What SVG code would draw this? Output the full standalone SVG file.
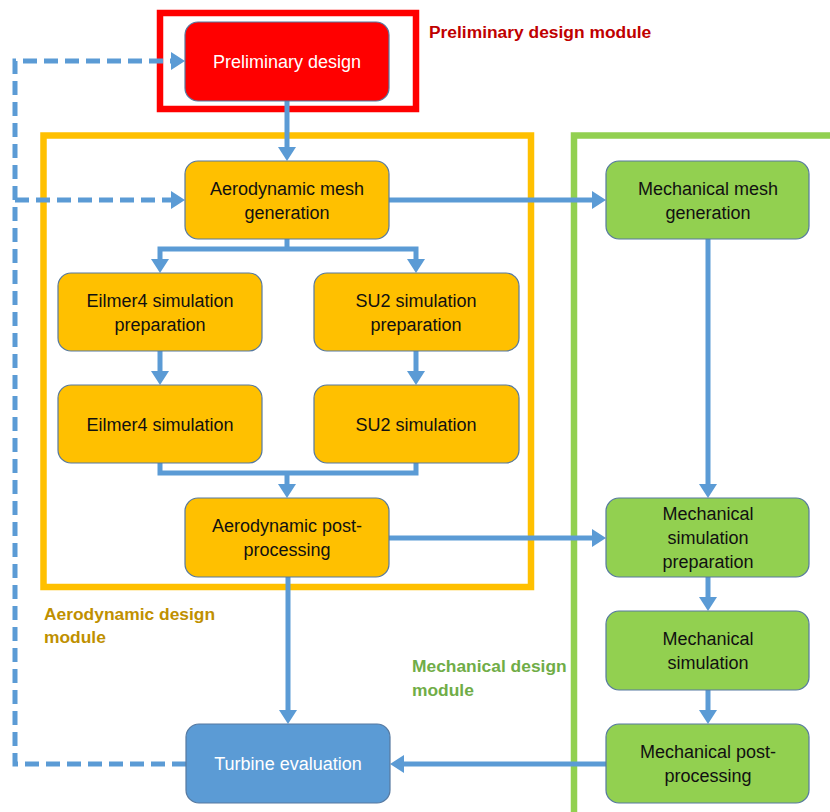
<svg xmlns="http://www.w3.org/2000/svg" width="830" height="812" viewBox="0 0 830 812">
<style>
.frame{fill:none;stroke-width:6.5}
.node rect{stroke:#5679A0;stroke-width:1.2}
.t{font-family:"Liberation Sans",Arial,sans-serif;font-size:18px;text-anchor:middle}
.dark{fill:#111}
.light{fill:#fff}
.lbl{font-family:"Liberation Sans",Arial,sans-serif;font-size:17.4px;font-weight:bold}
.c{fill:none;stroke:#5B9BD5;stroke-width:5}
.ca{marker-end:url(#ah)}
.dash{stroke-dasharray:14 7}
</style>
<defs>
<marker id="ah" viewBox="0 0 14 18" refX="2" refY="9" markerWidth="14" markerHeight="18" markerUnits="userSpaceOnUse" orient="auto-start-reverse">
<path d="M0,0 L14,9 L0,18 z" fill="#5B9BD5"/>
</marker>
</defs>
<rect width="830" height="812" fill="#fff"/>

<g id="frames">
<rect class="frame" x="160" y="13" width="256" height="96" stroke="#FF0000"/>
<rect class="frame" x="43.5" y="135.5" width="487.5" height="451.5" stroke="#FFC000"/>
<path class="frame" d="M574,815 V135.5 H835" stroke="#92D050"/>
</g>

<g id="module-labels">
<text class="lbl" x="429" y="38" fill="#C00000">Preliminary design module</text>
<text class="lbl" x="44" y="620" fill="#BF9000">Aerodynamic design</text>
<text class="lbl" x="44" y="643" fill="#BF9000">module</text>
<text class="lbl" x="412" y="672" fill="#70AD47">Mechanical design</text>
<text class="lbl" x="412" y="696" fill="#70AD47">module</text>
</g>

<g id="connectors">
<path class="c ca" d="M287,101 V149"/>
<path class="c ca" d="M389,200 H594"/>
<path class="c" d="M287,239 V249"/>
<path class="c" d="M160,261 V249 H416 V261" style="marker-start:url(#ah);marker-end:url(#ah)"/>
<path class="c ca" d="M160,351 V373"/>
<path class="c ca" d="M416,351 V373"/>
<path class="c" d="M160,463 V473 H416 V463"/>
<path class="c ca" d="M287,473 V486"/>
<path class="c ca" d="M388,538 H594"/>
<path class="c ca" d="M288,577 V712"/>
<path class="c ca" d="M708,239 V486"/>
<path class="c ca" d="M708,577 V599"/>
<path class="c ca" d="M708,690 V712"/>
<path class="c ca" d="M606,764 H402"/>
<path class="c dash ca" d="M186,764 H15 V61 H173"/>
<path class="c dash ca" d="M15,200 H173"/>
</g>

<g id="preliminary-design" class="node">
<rect x="185" y="22" width="204" height="79" rx="13" fill="#FF0000"/>
<text class="t light" x="287" y="68">Preliminary design</text>
</g>
<g id="aero-mesh" class="node">
<rect x="185" y="161" width="204" height="78" rx="13" fill="#FFC000"/>
<text class="t dark" x="287" y="194.5">Aerodynamic mesh</text>
<text class="t dark" x="287" y="218.5">generation</text>
</g>
<g id="eilmer4-prep" class="node">
<rect x="58" y="273" width="204" height="78" rx="13" fill="#FFC000"/>
<text class="t dark" x="160" y="306.5">Eilmer4 simulation</text>
<text class="t dark" x="160" y="330.5">preparation</text>
</g>
<g id="su2-prep" class="node">
<rect x="314" y="273" width="205" height="78" rx="13" fill="#FFC000"/>
<text class="t dark" x="416" y="306.5">SU2 simulation</text>
<text class="t dark" x="416" y="330.5">preparation</text>
</g>
<g id="eilmer4-sim" class="node">
<rect x="58" y="385" width="204" height="78" rx="13" fill="#FFC000"/>
<text class="t dark" x="160" y="430.5">Eilmer4 simulation</text>
</g>
<g id="su2-sim" class="node">
<rect x="314" y="385" width="205" height="78" rx="13" fill="#FFC000"/>
<text class="t dark" x="416" y="430.5">SU2 simulation</text>
</g>
<g id="aero-post" class="node">
<rect x="185" y="498" width="204" height="79" rx="13" fill="#FFC000"/>
<text class="t dark" x="287" y="531.5">Aerodynamic post-</text>
<text class="t dark" x="287" y="555.5">processing</text>
</g>
<g id="turbine-evaluation" class="node">
<rect x="186" y="724" width="204" height="79" rx="13" fill="#5B9BD5"/>
<text class="t light" x="288" y="770">Turbine evaluation</text>
</g>
<g id="mech-mesh" class="node">
<rect x="606" y="161" width="203" height="78" rx="13" fill="#92D050"/>
<text class="t dark" x="708" y="194.5">Mechanical mesh</text>
<text class="t dark" x="708" y="218.5">generation</text>
</g>
<g id="mech-sim-prep" class="node">
<rect x="606" y="498" width="203" height="79" rx="13" fill="#92D050"/>
<text class="t dark" x="708" y="520">Mechanical</text>
<text class="t dark" x="708" y="544">simulation</text>
<text class="t dark" x="708" y="568">preparation</text>
</g>
<g id="mech-sim" class="node">
<rect x="606" y="611" width="203" height="79" rx="13" fill="#92D050"/>
<text class="t dark" x="708" y="645">Mechanical</text>
<text class="t dark" x="708" y="669">simulation</text>
</g>
<g id="mech-post" class="node">
<rect x="606" y="724" width="203" height="79" rx="13" fill="#92D050"/>
<text class="t dark" x="708" y="758">Mechanical post-</text>
<text class="t dark" x="708" y="782">processing</text>
</g>
</svg>
